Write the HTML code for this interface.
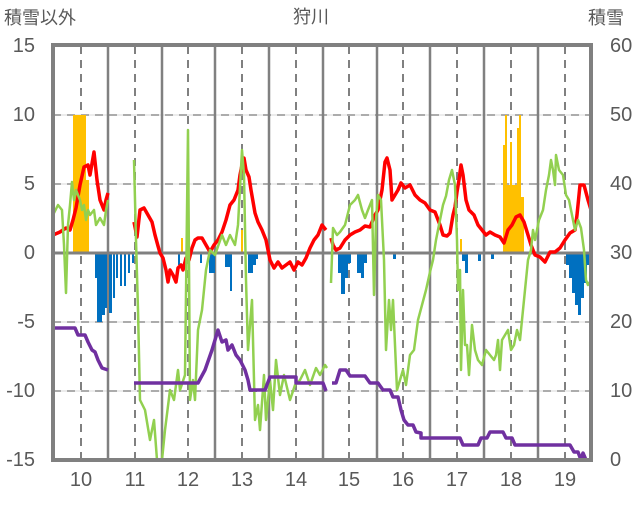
<!DOCTYPE html>
<html><head><meta charset="utf-8"><style>
body{margin:0;background:#fff;}
svg text{font-family:"Liberation Sans","Noto Sans CJK JP",sans-serif;fill:#595959;}
</style></head><body>
<svg width="636" height="501" viewBox="0 0 636 501" xmlns="http://www.w3.org/2000/svg">
<rect width="636" height="501" fill="#fff"/>
<!-- horizontal dashed grid -->
<g stroke="#808080" stroke-width="2" stroke-dasharray="8,6">
<line x1="53" y1="115" x2="591" y2="115"/><line x1="53" y1="184" x2="591" y2="184"/>
<line x1="53" y1="322" x2="591" y2="322"/><line x1="53" y1="391" x2="591" y2="391"/>
</g>
<g stroke="#d9d9d9" stroke-width="1"><line x1="53" y1="115" x2="591" y2="115"/><line x1="53" y1="184" x2="591" y2="184"/><line x1="53" y1="322" x2="591" y2="322"/><line x1="53" y1="391" x2="591" y2="391"/></g>
<!-- vertical dashed -->
<g stroke="#808080" stroke-width="2" stroke-dasharray="8,6">
<line x1="81" y1="46" x2="81" y2="459"/><line x1="135" y1="46" x2="135" y2="459"/><line x1="188" y1="46" x2="188" y2="459"/><line x1="242" y1="46" x2="242" y2="459"/><line x1="296" y1="46" x2="296" y2="459"/><line x1="349" y1="46" x2="349" y2="459"/><line x1="403" y1="46" x2="403" y2="459"/><line x1="457" y1="46" x2="457" y2="459"/><line x1="511" y1="46" x2="511" y2="459"/><line x1="565" y1="46" x2="565" y2="459"/>
</g>
<!-- vertical solid -->
<g stroke="#808080" stroke-width="2.5">
<line x1="108" y1="46" x2="108" y2="459"/><line x1="162" y1="46" x2="162" y2="459"/><line x1="215" y1="46" x2="215" y2="459"/><line x1="269" y1="46" x2="269" y2="459"/><line x1="323" y1="46" x2="323" y2="459"/><line x1="377" y1="46" x2="377" y2="459"/><line x1="430" y1="46" x2="430" y2="459"/><line x1="484" y1="46" x2="484" y2="459"/><line x1="538" y1="46" x2="538" y2="459"/>
</g>
<!-- orange bars -->
<g fill="#ffc000">
<rect x="73" y="115" width="13" height="138"/><rect x="86" y="180" width="3" height="73"/>
<rect x="181" y="238" width="2" height="15"/><rect x="241" y="230" width="2" height="23"/>
<rect x="460" y="239" width="2" height="14"/>
<rect x="503" y="145" width="2" height="108"/><rect x="505" y="115" width="2" height="138"/><rect x="507" y="185" width="3" height="68"/><rect x="510" y="142" width="2" height="111"/><rect x="512" y="185" width="5" height="68"/><rect x="517" y="128" width="2" height="125"/><rect x="519" y="115" width="2" height="138"/><rect x="521" y="197" width="3" height="56"/>
</g>
<!-- blue bars -->
<g fill="#0070c0">
<rect x="95" y="253" width="2" height="25"/><rect x="97" y="253" width="5" height="69"/><rect x="102" y="253" width="3" height="62"/><rect x="105" y="253" width="2" height="55"/><rect x="109" y="253" width="3" height="60"/><rect x="113" y="253" width="2" height="45"/><rect x="116" y="253" width="2" height="25"/><rect x="120" y="253" width="2" height="33"/><rect x="124" y="253" width="2" height="33"/><rect x="128" y="253" width="2" height="20"/><rect x="132" y="253" width="2" height="10"/>
<rect x="178" y="253" width="2" height="12"/><rect x="200" y="253" width="2" height="10"/><rect x="209" y="253" width="6" height="20"/><rect x="225" y="253" width="6" height="14"/><rect x="230" y="253" width="2" height="38"/><rect x="248" y="253" width="5" height="20"/><rect x="253" y="253" width="3" height="12"/><rect x="256" y="253" width="2" height="6"/>
<rect x="338" y="253" width="3" height="20"/><rect x="341" y="253" width="4" height="41"/><rect x="345" y="253" width="3" height="25"/><rect x="348" y="253" width="3" height="10"/><rect x="357" y="253" width="4" height="20"/><rect x="361" y="253" width="3" height="25"/><rect x="364" y="253" width="3" height="10"/><rect x="393" y="253" width="3" height="6"/>
<rect x="462" y="253" width="4" height="8"/><rect x="465" y="253" width="3" height="20"/><rect x="478" y="253" width="3" height="8"/><rect x="491" y="253" width="3" height="6"/>
<rect x="566" y="253" width="3" height="12"/><rect x="569" y="253" width="3" height="25"/><rect x="572" y="253" width="3" height="40"/><rect x="575" y="253" width="3" height="52"/><rect x="578" y="253" width="3" height="62"/><rect x="581" y="253" width="3" height="45"/><rect x="584" y="253" width="3" height="30"/><rect x="587" y="253" width="3" height="12"/>
</g>
<!-- zero line -->
<line x1="53" y1="253" x2="591" y2="253" stroke="#808080" stroke-width="3"/>
<!-- red -->
<g fill="none" stroke="#ff0000" stroke-width="3.5" stroke-linejoin="round">
<polyline points="53,235 60,232 66,228 70,230 73,220 76,208 80,185 84,167 88,165 90,175 94,152 97,180 100,200 104,210 106,200 108,193"/>
<polyline points="134,222 137,237 140,210 144,208 148,215 152,222 155,235 158,246 160,253 163,258 166,270 168,282 170,270 173,275 176,282 178,268 181,265 183,270 186,258 189,260 192,248 195,240 198,238 202,238 206,245 210,252 214,245 218,240 222,232 226,220 230,205 234,200 238,190 240,175 242,165 244,158 246,170 249,177 251,190 255,213 258,222 262,230 266,240 270,260 274,268 278,262 282,268 286,265 290,262 294,270 298,262 302,265 306,258 310,248 314,240 318,235 322,225 326,230"/>
<polyline points="331,238 333,245 336,250 340,248 345,240 350,235 355,232 360,230 365,226 370,227 375,215 378,210 382,190 385,162 387,158 390,170 392,200 395,195 398,190 401,183 405,188 410,185 415,195 420,200 425,203 430,210 435,212 440,225 443,235 447,236 450,233 453,215 455,207 457,192 459,180 461,165 463,175 466,200 469,210 474,215 478,225 482,230 486,235 490,232 495,235 500,237 504,243 508,230 512,225 516,217 520,215 524,222 528,235 531,245 535,255 540,257 545,262 550,252 555,252 560,248 565,240 570,233 575,230 577,215 580,185 584,185 588,200 591,210"/>
</g>
<!-- green -->
<g fill="none" stroke="#92d050" stroke-width="2.5" stroke-linejoin="round">
<polyline points="53,215 58,205 62,210 64,245 66,293 68,225 70,205 72,182 74,200 76,190 78,195 80,200 82,210 84,205 86,220 88,210 90,215 94,210 96,225 100,218 104,225 106,210 108,200"/>
<polyline points="134,160 136,240 138,310 140,400 145,410 150,440 154,420 157,460 162,460 165,430 170,390 174,400 178,370 180,390 185,375 188,130 190,400 193,380 195,400 198,330 202,310 206,270 210,250 215,255 222,235 226,245 230,235 235,245 238,225 242,150 244,175 246,280 248,350 252,300 255,420 258,405 260,430 264,375 266,420 270,380 273,410 276,360 280,395 284,375 290,400 295,385 300,380 305,370 310,385 316,368 320,375 325,365 327,368"/>
<polyline points="331,283 333,228 337,235 340,232 345,225 350,205 355,200 358,195 362,210 365,218 368,210 372,200 374,295 376,220 378,195 381,200 384,260 386,350 389,300 391,330 393,300 395,345 397,390 400,380 403,370 406,385 410,355 414,350 418,320 422,305 426,290 430,272 433,260 436,240 440,220 443,205 446,196 449,180 452,170 455,185 457,240 458,290 460,270 461,370 463,290 465,345 467,345 469,375 472,325 475,350 478,360 482,365 486,350 490,355 494,360 496,355 498,340 500,370 502,340 505,335 508,330 511,350 514,345 517,330 520,340 524,300 526,280 528,260 531,250 533,230 535,240 539,220 543,210 546,190 549,175 551,160 553,170 555,185 556,155 559,170 563,175 566,195 569,200 572,215 575,230 578,220 581,228 584,250 586,280 588,285 591,280"/>
</g>
<!-- purple -->
<g fill="none" stroke="#7030a0" stroke-width="3.5" stroke-linejoin="round">
<polyline points="53,328 75,328 78,335 85,335 88,342 92,350 95,352 98,360 102,368 108,370"/>
<polyline points="134,383 198,383 205,370 212,350 218,330 222,342 226,340 228,350 232,345 236,355 240,360 245,370 248,380 250,390 265,390 270,377 296,377 296,383 323,383 326,391"/>
<polyline points="332,383 336,383 340,370 346,370 350,376 365,376 370,383 378,383 383,390 390,390 393,397 398,397 401,410 404,420 408,425 413,425 416,432 421,433 421,438 460,438 463,445 478,445 481,438 487,438 490,432 503,432 506,438 512,438 515,445 570,445 574,452 578,452 581,460 583,453 586,460 592,460"/>
</g>
<!-- frame -->
<rect x="53" y="45" width="538" height="415" fill="none" stroke="#808080" stroke-width="4"/>
<!-- labels -->
<g font-size="20">
<text x="311" y="23" text-anchor="middle" font-size="18">狩川</text>
<text x="4" y="24" font-size="18">積雪以外</text>
<text x="588" y="24" font-size="18">積雪</text>
<g text-anchor="end"><text x="35" y="52">15</text><text x="35" y="121">10</text><text x="35" y="190">5</text><text x="35" y="259">0</text><text x="35" y="328">-5</text><text x="35" y="397">-10</text><text x="35" y="466">-15</text></g>
<g><text x="610" y="52">60</text><text x="610" y="121">50</text><text x="610" y="190">40</text><text x="610" y="259">30</text><text x="610" y="328">20</text><text x="610" y="397">10</text><text x="610" y="466">0</text></g>
<g text-anchor="middle"><text x="81" y="486">10</text><text x="135" y="486">11</text><text x="188" y="486">12</text><text x="242" y="486">13</text><text x="296" y="486">14</text><text x="349" y="486">15</text><text x="403" y="486">16</text><text x="457" y="486">17</text><text x="511" y="486">18</text><text x="565" y="486">19</text></g>
</g>
</svg>
</body></html>
